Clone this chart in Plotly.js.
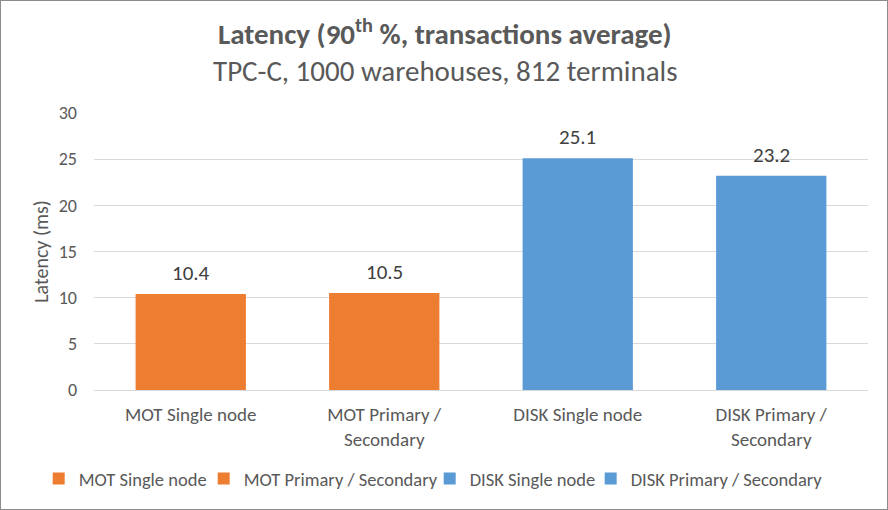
<!DOCTYPE html>
<html><head><meta charset="utf-8">
<script src="https://cdn.plot.ly/plotly-3.0.1.min.js"></script>
<style>
html,body{margin:0;padding:0;background:#fff;}
#chart{width:886px;height:508px;border:1px solid #8c8c8c;}
</style></head>
<body><div id="chart"></div>
<script>
const categories = ["MOT Single node", "MOT Primary / Secondary", "DISK Single node", "DISK Primary / Secondary"];
const tickLabels = ["MOT Single node", "MOT Primary /<br>Secondary", "DISK Single node", "DISK Primary /<br>Secondary"];
const latency = [10.4, 10.5, 25.1, 23.2];
const colors = ["#ED7D31", "#ED7D31", "#5B9BD5", "#5B9BD5"];
const titleText = "<b>Latency (90<sup>th</sup> %, transactions average)</b>";
const subtitleText = "TPC-C, 1000 warehouses, 812 terminals";
const legendWidths = [133, 194, 129, 190];

const font = "Calibri, Carlito, 'Open Sans', sans-serif";
const traces = categories.map((c, i) => ({
  type: "bar", name: c, x: [c], y: [latency[i]],
  marker: {color: colors[i]}, hoverinfo: "skip", legendwidth: legendWidths[i]
}));
const annotations = categories.map((c, i) => ({
  x: c, y: latency[i], xref: "x", yref: "y", text: latency[i].toFixed(1),
  showarrow: false, yanchor: "middle", yshift: 21,
  font: {family: font, size: 21, color: "#404040"}
}));
annotations.push({
  x: 0.4535, xref: "paper", y: 1.290, yref: "paper", xanchor: "center", yanchor: "middle",
  showarrow: false, text: titleText, font: {family: font, size: 29, color: "#595959"}
});
annotations.push({
  x: 0.4535, xref: "paper", y: 1.152, yref: "paper", xanchor: "center", yanchor: "middle",
  showarrow: false, text: subtitleText, font: {family: font, size: 29, color: "#595959"}
});
const layout = {
  width: 886, height: 508,
  margin: {l: 93, r: 19, t: 112, b: 119},
  paper_bgcolor: "#fff", plot_bgcolor: "#fff",
  barmode: "overlay", bargap: 0.43,
  font: {family: font, color: "#595959"},
  xaxis: {
    categoryorder: "array", categoryarray: categories,
    tickmode: "array", tickvals: categories, ticktext: tickLabels,
    tickfont: {family: font, size: 19, color: "#595959"}, ticklabelstandoff: 7,
    showline: true, linecolor: "#d9d9d9", linewidth: 1, ticks: "", fixedrange: true
  },
  yaxis: {
    range: [0, 30], dtick: 5, tickfont: {family: font, size: 18, color: "#595959"},
    gridcolor: "#d9d9d9", zeroline: false, ticks: "", ticklabelstandoff: 16,
    title: {text: "Latency (ms)", font: {family: font, size: 20, color: "#595959"}, standoff: 4}
  },
  legend: {
    orientation: "h", xref: "container", yref: "container",
    x: 0.494, xanchor: "center", y: 0.059, yanchor: "middle", indentation: -13,
    font: {family: font, size: 18.5, color: "#595959"}, itemwidth: 30, traceorder: "normal"
  },
  annotations: annotations,
  showlegend: true
};
Plotly.newPlot("chart", traces, layout, {displayModeBar: false, staticPlot: true});
</script></body></html>
